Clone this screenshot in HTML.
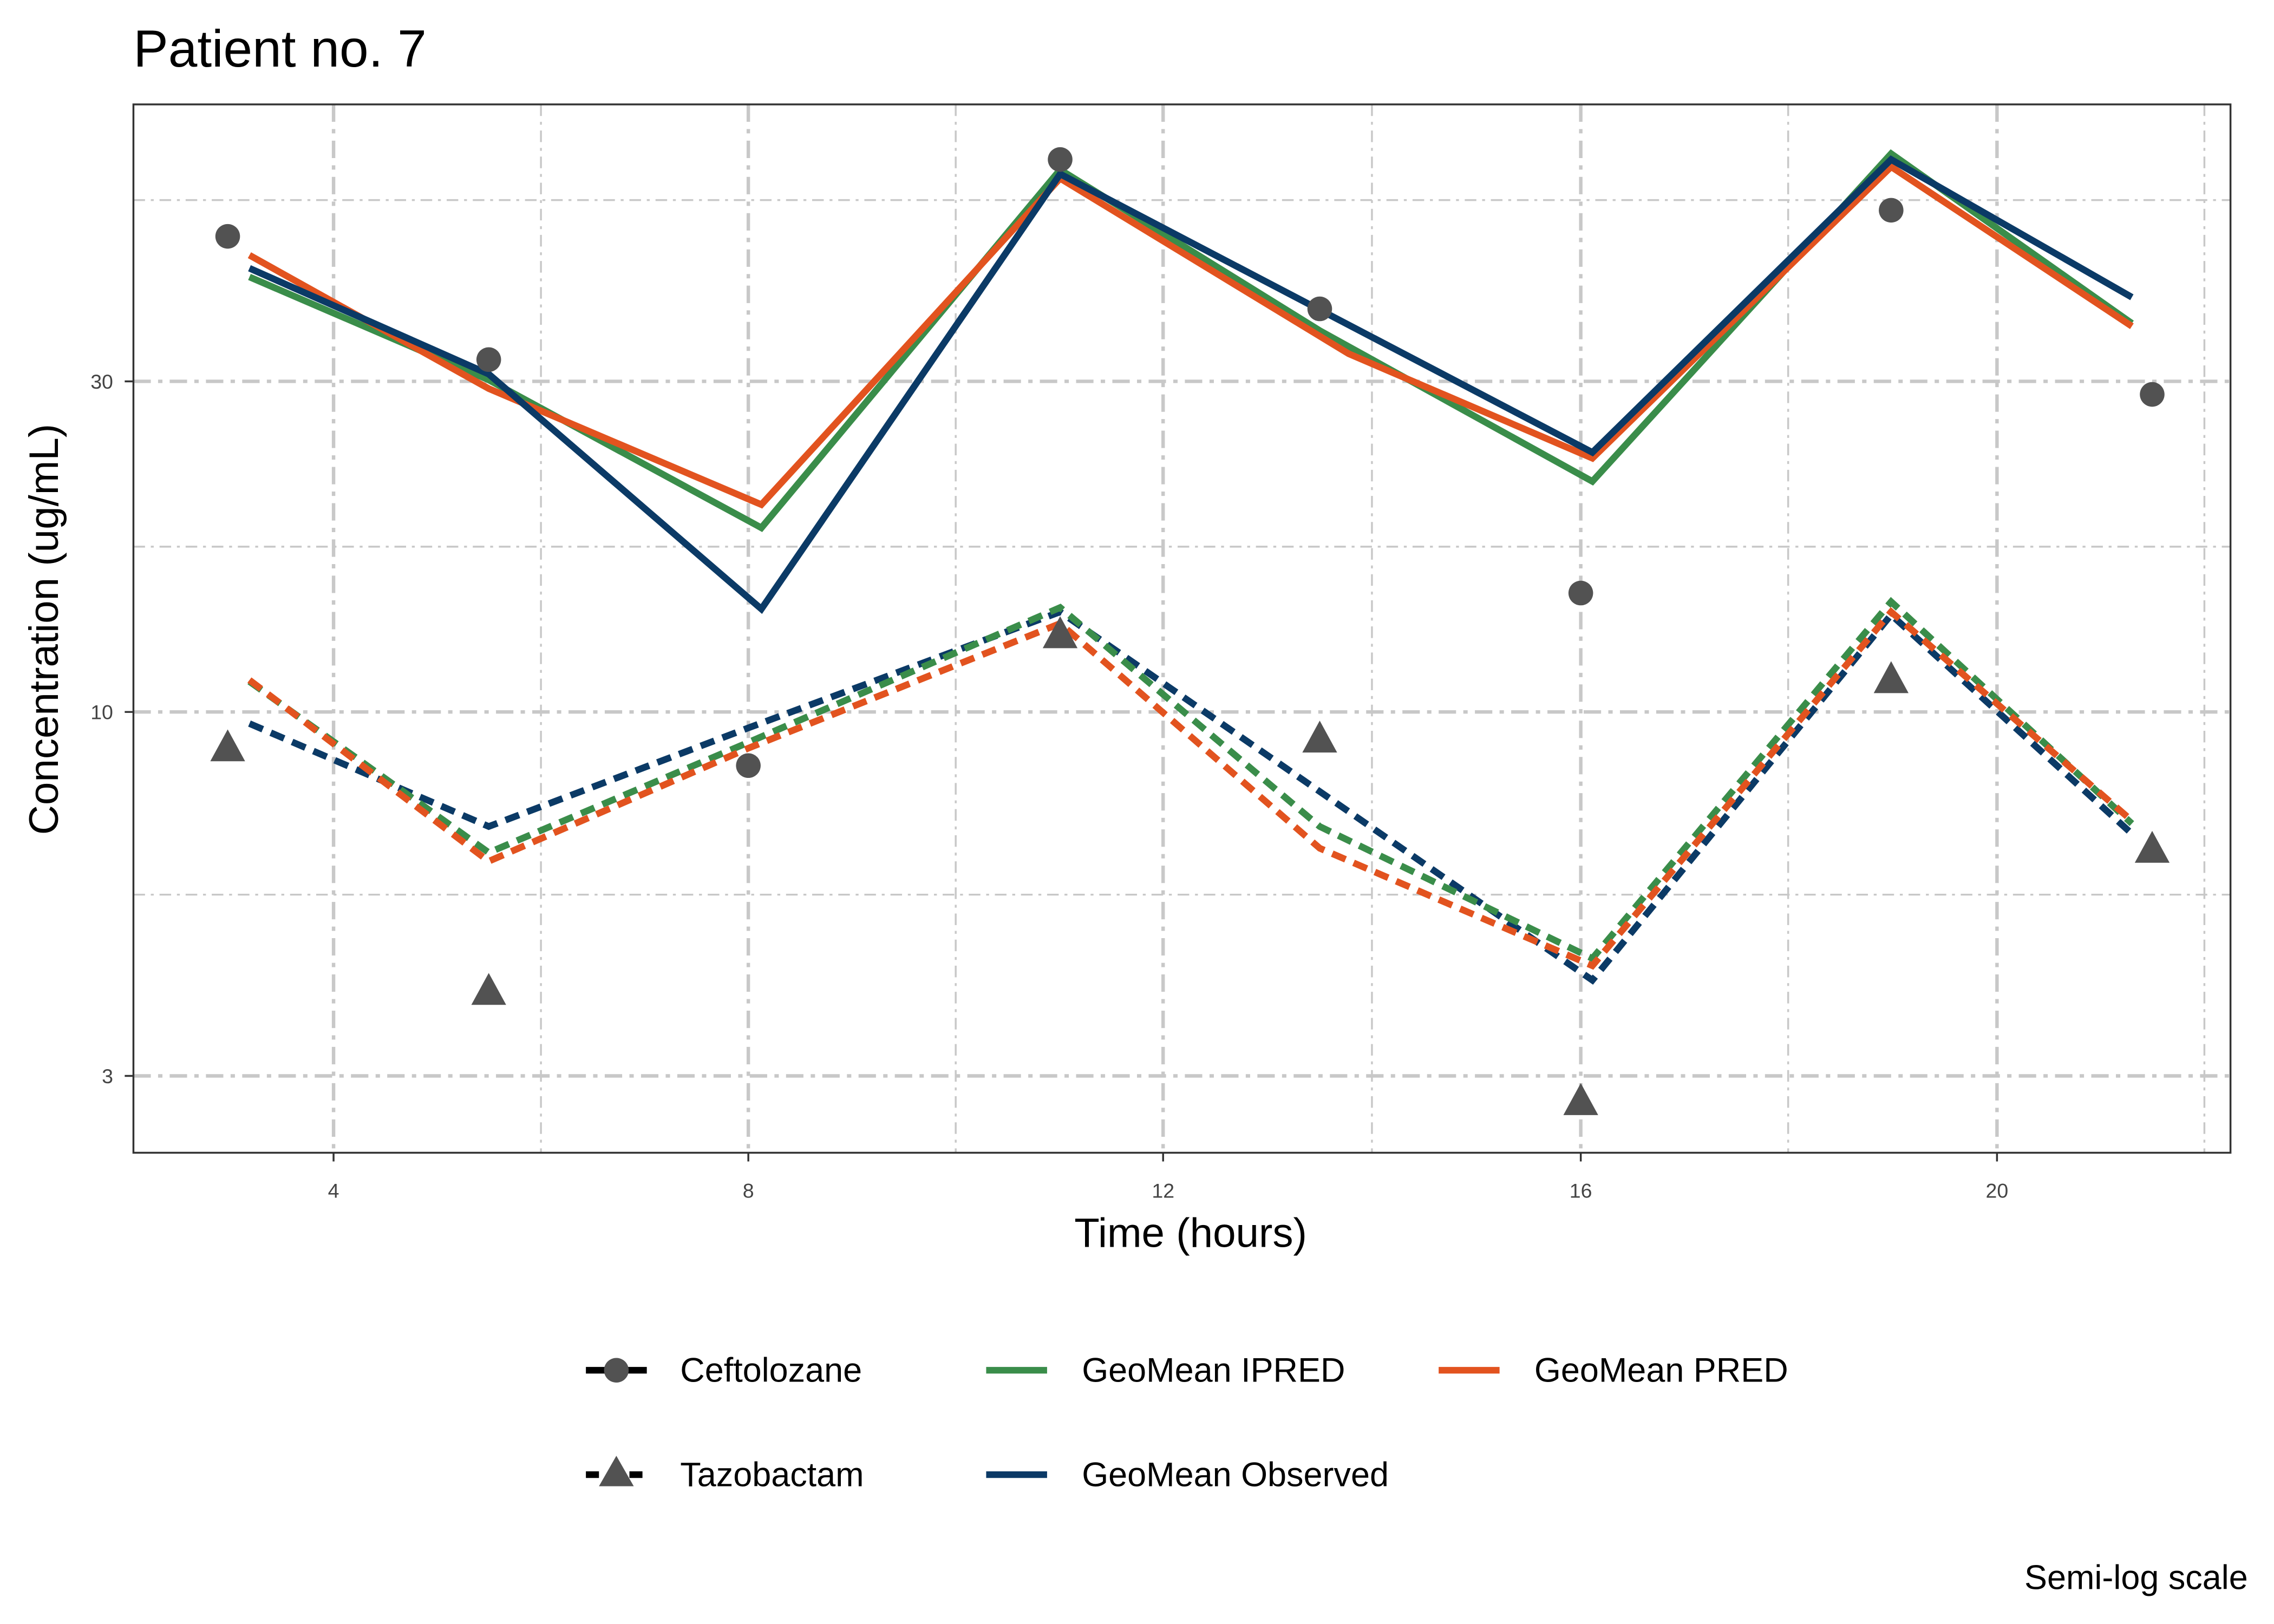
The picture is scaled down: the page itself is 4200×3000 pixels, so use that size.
<!DOCTYPE html>
<html><head><meta charset="utf-8"><style>html,body{margin:0;padding:0;background:#fff}svg{display:block}</style></head>
<body>
<svg width="4200" height="3000" viewBox="0 0 1568 1120" preserveAspectRatio="none" xmlns="http://www.w3.org/2000/svg" font-family="Liberation Sans, Arial, sans-serif">
<rect width="1568" height="1120" fill="#fff"/>
<text x="92" y="46" font-size="36" fill="#000">Patient no. 7</text>
<g stroke="#c8c8c8" stroke-width="1.3" stroke-dasharray="8,4,2,4" fill="none">
<line x1="92" x2="1538" y1="138" y2="138"/><line x1="92" x2="1538" y1="377" y2="377"/><line x1="92" x2="1538" y1="617" y2="617"/>
<line y1="72" y2="795" x1="373" x2="373"/><line y1="72" y2="795" x1="659" x2="659"/><line y1="72" y2="795" x1="946" x2="946"/><line y1="72" y2="795" x1="1233" x2="1233"/><line y1="72" y2="795" x1="1520" x2="1520"/>
</g>
<g stroke="#c8c8c8" stroke-width="2.4" stroke-dasharray="12,5,3,5" fill="none">
<line x1="92" x2="1538" y1="263" y2="263"/><line x1="92" x2="1538" y1="491" y2="491"/><line x1="92" x2="1538" y1="742" y2="742"/>
<line y1="72" y2="795" x1="230" x2="230"/><line y1="72" y2="795" x1="516" x2="516"/><line y1="72" y2="795" x1="802" x2="802"/><line y1="72" y2="795" x1="1090" x2="1090"/><line y1="72" y2="795" x1="1377" x2="1377"/>
</g>
<g fill="none" stroke-width="4.6">
<polyline stroke="#3a8d4a" points="172,191 337,262 525,364 731,117 910,228 1098,332 1304,106 1470,223"/>
<polyline stroke="#e2531f" points="172,176 337,268 525,348 731,123 930,244 1098,316 1304,115 1470,225"/>
<polyline stroke="#0b3a66" points="172,185 337,258 525,420 731,120 1098,312 1304,110 1470,205"/>
<g stroke-dasharray="10,6">
<polyline stroke="#0b3a66" points="172,499 337,570 516,502 731,422 1098,676 1304,424 1470,575"/>
<polyline stroke="#3a8d4a" points="172,470 337,588 516,512 731,419 910,570 1098,661 1304,415 1470,568"/>
<polyline stroke="#e2531f" points="172,469 337,594 516,516 731,430 910,585 1098,666 1304,422 1470,566"/>
</g></g>
<g fill="#525252">
<circle cx="157" cy="163" r="8.5"/><circle cx="337" cy="248" r="8.5"/><circle cx="516" cy="528" r="8.5"/><circle cx="731" cy="110" r="8.5"/><circle cx="910" cy="213" r="8.5"/><circle cx="1090" cy="409" r="8.5"/><circle cx="1304" cy="145" r="8.5"/><circle cx="1484" cy="272" r="8.5"/>
<g id="t"><polygon points="157,503 145,525 169,525"/></g>
<use href="#t" transform="translate(180,168)"/><use href="#t" transform="translate(574,-78)"/><use href="#t" transform="translate(753,-6)"/><use href="#t" transform="translate(933,244)"/><use href="#t" transform="translate(1147,-47)"/><use href="#t" transform="translate(1327,70)"/>
</g>
<rect x="92" y="72" width="1446" height="723" fill="none" stroke="#333" stroke-width="1.3"/>
<g font-size="14" fill="#444" text-anchor="middle">
<text x="230" y="826">4</text><text x="516" y="826">8</text><text x="802" y="826">12</text><text x="1090" y="826">16</text><text x="1377" y="826">20</text>
</g>
<g font-size="14" fill="#444" text-anchor="end">
<text x="78" y="268">30</text><text x="78" y="496">10</text><text x="78" y="747">3</text>
</g>
<g stroke="#333" stroke-width="1.3">
<line x1="230" x2="230" y1="795" y2="801"/><line x1="516" x2="516" y1="795" y2="801"/><line x1="802" x2="802" y1="795" y2="801"/><line x1="1090" x2="1090" y1="795" y2="801"/><line x1="1377" x2="1377" y1="795" y2="801"/>
<line x1="86" x2="92" y1="263" y2="263"/><line x1="86" x2="92" y1="491" y2="491"/><line x1="86" x2="92" y1="742" y2="742"/>
</g>
<text x="821" y="860" font-size="28.5" text-anchor="middle">Time (hours)</text>
<text transform="translate(40,434) rotate(-90)" font-size="28.5" text-anchor="middle">Concentration (ug/mL)</text>
<g stroke-width="4.6">
<line x1="404" x2="446" y1="945" y2="945" stroke="#000"/><circle cx="425" cy="945" r="8.5" fill="#525252"/>
<line x1="404" x2="446" y1="1017" y2="1017" stroke="#000" stroke-dasharray="9,6"/><polygon points="425,1004 413,1025 437,1025" fill="#525252"/>
<line x1="680" x2="722" y1="945" y2="945" stroke="#3a8d4a"/>
<line x1="680" x2="722" y1="1017" y2="1017" stroke="#0b3a66"/>
<line x1="992" x2="1034" y1="945" y2="945" stroke="#e2531f"/>
</g>
<g font-size="23.5">
<text x="469" y="953">Ceftolozane</text><text x="469" y="1025">Tazobactam</text>
<text x="746" y="953">GeoMean IPRED</text><text x="746" y="1025">GeoMean Observed</text>
<text x="1058" y="953">GeoMean PRED</text>
<text x="1550" y="1096" text-anchor="end">Semi-log scale</text>
</g>
</svg>
</body></html>
